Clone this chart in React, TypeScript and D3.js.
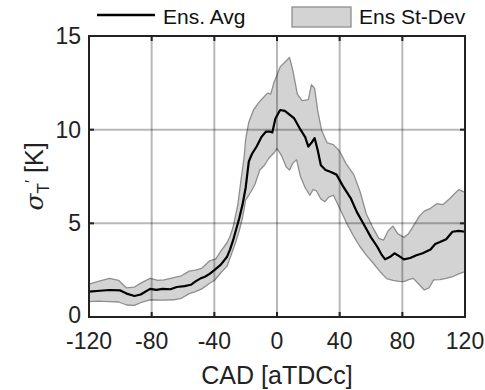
import React from "react";
import * as d3 from "d3";

const xTicks = [-120, -80, -40, 0, 40, 80, 120];
const yTicks = [0, 5, 10, 15];

// Ensemble average [CAD, sigma]
const meanX = [-120, -113, -107, -100, -96, -91, -87, -81, -77, -73, -68, -64, -59, -55, -52, -49, -46, -43, -40, -36, -32, -30, -28, -26, -24, -22, -20, -18, -16, -13, -10, -7, -4.5, -3, -1, 2, 5, 8, 11, 15, 18, 20, 22, 24, 26, 28, 31, 34, 38, 42, 47, 51, 55, 60, 64, 67, 69, 72, 75, 78, 81, 85, 89, 93, 98, 101, 104, 108, 112, 116, 120];
const meanY = [1.35, 1.4, 1.44, 1.42, 1.25, 1.12, 1.2, 1.5, 1.45, 1.5, 1.48, 1.6, 1.65, 1.72, 1.9, 2.05, 2.15, 2.3, 2.5, 2.78, 3.2, 3.6, 4.1, 4.7, 5.3, 6.0, 6.9, 8.3, 8.7, 9.1, 9.6, 9.9, 9.9, 9.85, 10.6, 11.05, 11.0, 10.8, 10.6, 10.0, 9.6, 9.1, 9.3, 9.55, 8.9, 8.1, 7.85, 7.75, 7.6, 7.0, 6.35, 5.6, 5.0, 4.25, 3.75, 3.3, 3.08, 3.2, 3.4, 3.25, 3.08, 3.15, 3.3, 3.4, 3.6, 3.9, 4.0, 4.15, 4.55, 4.6, 4.55];

// Upper edge of ensemble standard deviation band
const upperX = [-120, -114, -107, -101, -96, -91, -86, -81, -76, -72, -66, -61, -56, -52, -48, -43, -39, -36, -32, -30, -28, -25, -23, -21, -20, -18, -15, -12, -10, -6, -4, -2, 0, 2, 5, 8, 10, 13, 16, 20, 22, 24, 26, 28.5, 32, 36, 40, 44, 49, 53, 57, 61, 65, 68, 71, 74, 77, 81, 84, 87, 91, 94, 98, 102, 106, 110, 113, 116, 120];
const upperY = [1.76, 1.9, 2.06, 1.95, 1.55, 1.6, 1.85, 2.06, 1.95, 1.98, 2.1, 2.2, 2.45, 2.5, 2.6, 3.0, 3.1, 3.5, 3.95, 4.3, 4.8, 6.0, 7.3, 8.5, 9.5, 10.4, 11.05, 11.4, 11.6, 11.95, 11.9, 12.5, 12.9, 13.35, 13.6, 13.85, 13.2, 11.9, 11.55, 11.6, 12.4, 12.2, 11.0, 9.95, 9.3, 9.2, 8.85, 8.2, 7.6, 6.7, 5.5, 4.8, 4.2, 4.1, 4.6, 4.85, 4.45, 4.25, 4.45, 4.85, 5.4, 5.65, 5.8, 6.05, 6.0, 6.3, 6.55, 6.8, 6.65];

// Lower edge of ensemble standard deviation band
const lowerX = [-120, -114, -107, -101, -96, -91, -86, -81, -74, -66, -61, -56, -52, -48, -43, -40, -36, -32, -28, -26, -24, -22, -20, -18, -16, -14, -11, -8, -5, -2, 0, 3, 6, 8, 10, 12.5, 15, 18, 21, 23, 25, 28, 30.6, 33, 36, 40, 44.5, 49, 53, 57, 61.5, 66, 70, 74, 78, 81, 84, 87, 90, 94, 97, 100, 104, 108, 112, 116, 120];
const lowerY = [0.82, 0.85, 0.82, 0.8, 0.64, 0.62, 0.8, 0.92, 0.9, 0.92, 1.0, 1.25, 1.35, 1.5, 1.8, 1.95, 2.35, 2.7, 3.6, 4.1, 4.64, 5.3, 6.25, 6.5, 6.78, 7.1, 7.85, 8.1, 8.5, 8.75, 9.0, 8.6, 8.0, 7.85, 8.2, 8.4, 7.5, 6.9, 6.5, 6.8, 6.75, 6.3, 6.16, 6.4, 6.5, 5.8, 5.0, 4.3, 3.75, 3.3, 2.87, 2.4, 2.05, 1.95, 1.9, 1.89, 2.0, 2.06, 1.8, 1.44, 1.55, 1.98, 2.0, 2.06, 2.15, 2.3, 2.42];

const W = 485;
const H = 390;
const M = { left: 89, right: 465, top: 36, bottom: 317 };
const FONT = "'Liberation Sans', Arial, Helvetica, sans-serif";

export default function App() {
  const x = d3.scaleLinear().domain([-120, 120]).range([M.left, M.right]);
  const y = d3.scaleLinear().domain([0, 15]).range([M.bottom, M.top]);

  const meanPts: [number, number][] = meanX.map((v, i) => [v, meanY[i]]);
  const upPts: [number, number][] = upperX.map((v, i) => [v, upperY[i]]);
  const loPts: [number, number][] = lowerX.map((v, i) => [v, lowerY[i]]);

  const line = d3
    .line<[number, number]>()
    .x((d) => x(d[0]))
    .y((d) => y(d[1]));

  const bandPts = [...upPts, ...loPts.slice().reverse()];
  const bandPath = line(bandPts) + "Z";

  const tickLen = 5;

  return (
    <svg
      width={W}
      height={H}
      style={{ position: "absolute", left: 0, top: 0, background: "#fff" }}
      fontFamily={FONT}
    >
      <rect x={0} y={0} width={W} height={H} fill="#fff" />
      {/* Band */}
      <path d={bandPath} fill="#d3d3d3" stroke="#8e8e8e" strokeWidth={1.3} strokeLinejoin="round" />
      {/* Grid */}
      {xTicks.slice(1, -1).map((t) => (
        <line key={"gx" + t} x1={x(t)} x2={x(t)} y1={M.top} y2={M.bottom} stroke="#000" strokeOpacity={0.28} strokeWidth={2} />
      ))}
      {yTicks.slice(1, -1).map((t) => (
        <line key={"gy" + t} x1={M.left} x2={M.right} y1={y(t)} y2={y(t)} stroke="#000" strokeOpacity={0.28} strokeWidth={2} />
      ))}
      {/* Mean */}
      <path d={line(meanPts) || ""} fill="none" stroke="#000" strokeWidth={2.2} strokeLinejoin="round" />
      {/* Box */}
      <rect x={M.left} y={M.top} width={M.right - M.left} height={M.bottom - M.top} fill="none" stroke="#222" strokeWidth={2} />
      {/* Ticks */}
      {xTicks.map((t) => (
        <g key={"tx" + t}>
          <line x1={x(t)} x2={x(t)} y1={M.bottom} y2={M.bottom - tickLen} stroke="#222" strokeWidth={2} />
          <line x1={x(t)} x2={x(t)} y1={M.top} y2={M.top + tickLen} stroke="#222" strokeWidth={2} />
          <text x={x(t)} y={349} textAnchor="middle" fontSize={23} fill="#222">
            {t}
          </text>
        </g>
      ))}
      {yTicks.map((t) => (
        <g key={"ty" + t}>
          <line x1={M.left} x2={M.left + tickLen} y1={y(t)} y2={y(t)} stroke="#222" strokeWidth={2} />
          <line x1={M.right} x2={M.right - tickLen} y1={y(t)} y2={y(t)} stroke="#222" strokeWidth={2} />
          <text x={81} y={y(t)} dy={t === 0 ? "0.25em" : "0.35em"} textAnchor="end" fontSize={23} fill="#222">
            {t}
          </text>
        </g>
      ))}
      {/* Axis labels */}
      <text x={(M.left + M.right) / 2} y={384} textAnchor="middle" fontSize={25} fill="#222">
        CAD [aTDCc]
      </text>
      <text transform={`translate(43, ${(M.top + M.bottom) / 2}) rotate(-90)`} textAnchor="middle" fontSize={25} fill="#222">
        <tspan fontStyle="italic" fontFamily="'DejaVu Serif', serif">σ</tspan>
        <tspan fontSize={17} dy={6}>T</tspan>
        <tspan fontSize={17} dy={-12}>′</tspan>
        <tspan dy={6}> [K]</tspan>
      </text>
      {/* Legend */}
      <line x1={97} x2={155} y1={15} y2={15} stroke="#000" strokeWidth={2.5} />
      <text x={163} y={24} fontSize={21} fill="#111">Ens. Avg</text>
      <rect x={292} y={7} width={59} height={20} fill="#d3d3d3" stroke="#8e8e8e" strokeWidth={1.3} />
      <text x={359} y={24} fontSize={21} fill="#111">Ens St-Dev</text>
    </svg>
  );
}
